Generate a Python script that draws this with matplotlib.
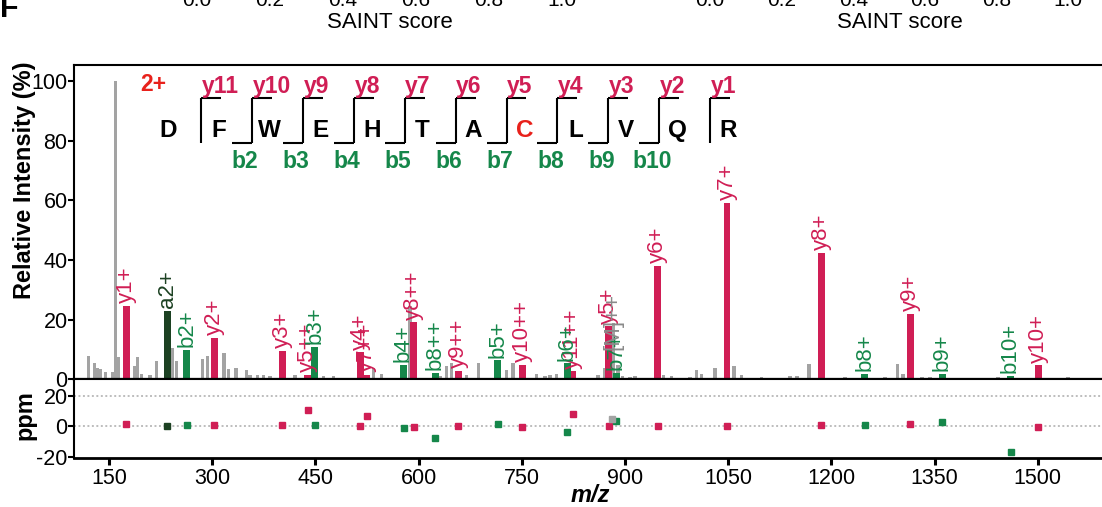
import matplotlib
matplotlib.use('Agg')
import matplotlib.pyplot as plt

plt.rcParams['font.family'] = ['Liberation Sans', 'DejaVu Sans']
plt.rcParams['axes.unicode_minus'] = False

CRIMSON = '#D01E55'
GREEN = '#15874A'
DKGREEN = '#1C4122'
GRAY = '#A3A3A3'
RED = '#E8211B'

# annotated y ions (m/z, rel. intensity, label, mass error ppm)
y_mz = [175.1, 303.2, 402.2, 438.7, 515.3, 524.7, 593.2, 657.8, 750.8, 824.3,
        876.3, 947.4, 1048.4, 1185.5, 1314.5, 1500.6]
y_int = [24.7, 13.9, 9.5, 1.5, 9.1, 1.5, 19.2, 3.0, 4.8, 2.7,
         17.8, 38.1, 59.1, 42.4, 22.0, 4.7]
y_lab = ['y1+', 'y2+', 'y3+', 'y5++', 'y4+', 'y7++', 'y8++', 'y9++', 'y10++', 'y11++',
         'y5+', 'y6+', 'y7+', 'y8+', 'y9+', 'y10+']
y_ppm = [1.8, 0.9, 0.9, 10.7, 0.2, 6.5, -0.5, 0.2, -0.5, 7.8,
         0.1, 0.1, 0.1, 0.8, 1.7, -0.6]

# annotated b ions
b_mz = [263.1, 449.2, 578.2, 624.7, 715.3, 816.3, 887.4, 1248.4, 1361.5, 1460.5]
b_int = [10.0, 10.9, 4.8, 2.2, 6.4, 5.4, 2.2, 2.0, 1.8, 1.3]
b_lab = ['b2+', 'b3+', 'b4+', 'b8++', 'b5+', 'b6+', 'b7+', 'b8+', 'b9+', 'b10+']
b_ppm = [0.9, 0.9, -1.2, -7.5, 1.8, -3.4, 3.6, 0.8, 2.9, -16.7]

# a ion
a_mz = [235.1]
a_int = [23.1]
a_lab = ['a2+']
a_ppm = [0.2]

# precursor
prec_mz = [881.8]
prec_int = [9.0]
prec_lab = ['[M]++']
prec_ppm = [4.5]

# unassigned peaks
noise_mz = [120.1, 128.8, 133.7, 137.5, 145.3, 155.5, 159.9, 163.2, 186.9, 191.3,
            197.7, 209.7, 219.5, 241.7, 248.5, 286.3, 293.6, 317.3, 323.5, 334.7,
            350.3, 355.1, 366.3, 374.4, 384.2, 420.5, 461.6, 476.2, 534.3, 546.5,
            587.6, 631.2, 641.0, 648.3, 670.1, 686.9, 728.2, 737.4, 771.8, 783.9,
            791.1, 800.9, 860.9, 871.1, 883.5, 890.0, 896.8, 907.4, 914.7, 955.8,
            968.0, 994.6, 1004.4, 1011.6, 1030.9, 1058.6, 1069.8, 1098.8, 1139.9, 1150.1,
            1167.6, 1219.9, 1278.0, 1296.5, 1304.2, 1331.8, 1343.5, 1442.3, 1544.0]
noise_int = [7.8, 5.6, 3.9, 3.6, 2.6, 2.4, 100.0, 7.5, 4.4, 7.7,
             2.0, 1.5, 6.2, 10.5, 6.2, 7.0, 7.8, 8.9, 3.6, 3.9,
             3.1, 1.5, 1.5, 1.5, 1.3, 1.6, 1.3, 1.1, 3.9, 1.7,
             24.7, 1.3, 4.4, 5.5, 1.5, 5.6, 3.1, 5.5, 1.7, 1.3,
             1.5, 1.7, 1.5, 3.9, 19.0, 5.0, 1.3, 1.0, 1.3, 1.5,
             1.1, 1.0, 3.1, 1.7, 4.0, 4.5, 1.4, 0.8, 1.2, 1.2,
             5.2, 0.7, 0.8, 5.2, 2.0, 0.8, 0.7, 0.7, 0.7]

sequence = list('DFWEHTACLVQR')
modified = ['C']

fig = plt.figure(figsize=(11.02, 5.07), dpi=100)
ax = fig.add_axes([0.0676, 0.2515, 0.9365, 0.6203])
ax2 = fig.add_axes([0.0676, 0.0966, 0.9365, 0.1549])

# spectrum
ax.bar(noise_mz, noise_int, width=4.5, color=GRAY, zorder=1)
ax.bar(prec_mz, prec_int, width=4.5, color=GRAY, zorder=1)
groups = [(y_mz, y_int, y_lab, y_ppm, CRIMSON),
          (b_mz, b_int, b_lab, b_ppm, GREEN),
          (a_mz, a_int, a_lab, a_ppm, DKGREEN),
          (prec_mz, prec_int, prec_lab, prec_ppm, '#8A8A8A')]
for mz, inten, lab, ppm, col in groups[:3]:
    ax.bar(mz, inten, width=10, color=col, zorder=2)
for mz, inten, lab, ppm, col in groups:
    for m, h, t in zip(mz, inten, lab):
        ax.text(m, h + 0.9, t, rotation=90, ha='center', va='bottom',
                color=col, fontsize=16, zorder=3)
    ax2.plot(mz, ppm, 's', ms=5, color=col if col != '#8A8A8A' else GRAY,
             linestyle='none', zorder=2)

ax.set_xlim(100, 1600)
ax.set_ylim(0, 105.4)
ax.set_xticks([])
ax.set_yticks([0, 20, 40, 60, 80, 100])
ax.tick_params(axis='y', length=4, width=1.5, labelsize=15.5, pad=1)
ax.spines['right'].set_visible(False)
ax.spines['left'].set_linewidth(1.5)
ax.spines['top'].set_linewidth(1.5)
ax.spines['bottom'].set_linewidth(2.3)
ax.spines['bottom'].set_zorder(4)

# fragment ladder
cut0, step = 283.9, 74.0
top_y, bot_y = 94.3, 79.2
stub = 29
for i, aa in enumerate(sequence):
    xc = cut0 + step * (i - 1) + 26
    ax.text(xc, 83.6, aa, ha='center', va='center', fontsize=17.5,
            fontweight='bold', color=RED if aa in modified else 'black')
for k in range(1, len(sequence)):
    xv = cut0 + step * (k - 1)
    ax.plot([xv, xv], [bot_y, top_y], color='black', lw=1.5, solid_capstyle='butt')
    ax.plot([xv, xv + stub], [top_y, top_y], color='black', lw=1.5, solid_capstyle='butt')
    ax.text(xv + 1.0, 98.3, 'y%d' % (len(sequence) - k), ha='left', va='center',
            fontsize=16.5, fontweight='bold', color=CRIMSON)
    if 2 <= k <= 10:
        ax.plot([xv - stub, xv], [bot_y, bot_y], color='black', lw=1.5,
                solid_capstyle='butt')
        ax.text(xv - 10, 73.2, 'b%d' % k, ha='center', va='center',
                fontsize=16.5, fontweight='bold', color=GREEN)
ax.text(214.1, 98.7, '2+', ha='center', va='center', fontsize=16.5,
        fontweight='bold', color=RED)

# ppm panel
ax2.axhline(20, color='#BDBDBD', lw=1.4, ls=(0, (1, 1.3)), zorder=0)
ax2.axhline(0, color='#BDBDBD', lw=1.4, ls=(0, (1, 1.3)), zorder=0)
ax2.set_xlim(100, 1600)
ax2.set_ylim(-20.6, 30.5)
ax2.set_yticks([-20, 0, 20])
ax2.set_xticks(list(range(150, 1501, 150)))
ax2.tick_params(axis='y', length=4, width=1.5, labelsize=15.5, pad=1)
ax2.tick_params(axis='x', length=5, width=2.2, labelsize=15.5, pad=2)
ax2.spines['right'].set_visible(False)
ax2.spines['top'].set_linewidth(1.5)
ax2.spines['left'].set_linewidth(1.5)
ax2.spines['bottom'].set_linewidth(2.0)

fig.text(25 / 1102, 1 - 180 / 507, 'Relative Intensity (%)', rotation=90,
         ha='center', va='center', fontsize=17, fontweight='bold')
fig.text(25 / 1102, 1 - 415 / 507, 'ppm', rotation=90,
         ha='center', va='center', fontsize=17, fontweight='bold')
fig.text(590 / 1102, 1 - 496 / 507, 'm/z', ha='center', va='center',
         fontsize=17, fontweight='bold', fontstyle='italic')

# cropped piece of the panel above
fig.text(0, 1 - 17 / 507, 'F', ha='left', va='baseline', fontsize=22, fontweight='bold')
for start, gap in [(197, 73), (710, 71.6)]:
    for j, t in enumerate(['0.0', '0.2', '0.4', '0.6', '0.8', '1.0']):
        fig.text((start + gap * j) / 1102, 1 - 6 / 507, t, ha='center',
                 va='baseline', fontsize=15)
fig.text(390 / 1102, 1 - 28 / 507, 'SAINT score', ha='center', va='baseline', fontsize=16)
fig.text(900 / 1102, 1 - 28 / 507, 'SAINT score', ha='center', va='baseline', fontsize=16)

fig.savefig('out.png', dpi=100)
